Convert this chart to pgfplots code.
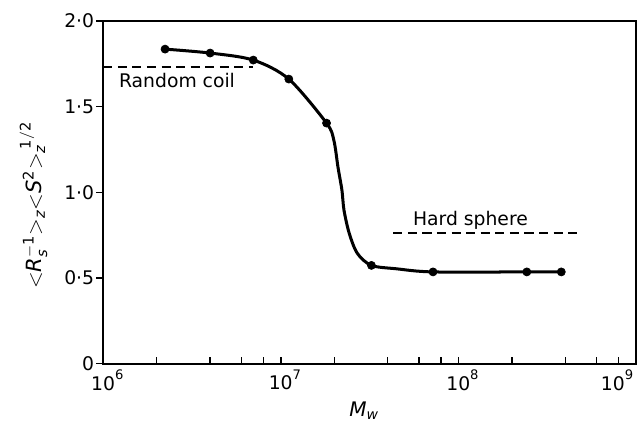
\documentclass[border=0pt]{standalone}
\usepackage{fontspec}
\setmainfont{DejaVu Sans}
\usepackage{pgfplots}
\pgfplotsset{compat=1.18}
\begin{document}
\begin{tikzpicture}[font=\fontsize{10.3}{12}\selectfont]
\begin{axis}[
 name=ax,
 scale only axis,
 width=292.4pt, height=188pt,
 xmode=log, xmin=1e6, xmax=1e9, ymin=0, ymax=2,
 xtick={1e6,1e7,1e8,1e9},
 xticklabels={$\mathrm{10}^{\mathrm{6}}$,$\mathrm{10}^{\mathrm{7}}$,$\mathrm{10}^{\mathrm{8}}$,\llap{$\mathrm{10}^{\mathrm{9}}$\hspace{3.5pt}}},
 minor xtick={2e6,4e6,6e6,8e6,2e7,4e7,6e7,8e7,2e8,4e8,6e8,8e8},
 ytick={0,0.5,1,1.5,2},
 yticklabels={0,0·5,1·0,1·5,2·0},
 xtick pos=bottom, ytick pos=left,
 xtick align=inside, ytick align=outside,
 major tick length=3.8pt, minor tick length=3.8pt,
 axis line style={line width=1.1pt},
 every tick/.style={black, line width=0.8pt},
 tick label style={font=\fontsize{10.3}{12}\selectfont},
 yticklabel style={inner sep=1pt},
 xticklabel style={xshift=2.5pt},
 xlabel={$\mathit{M}_{\mathit{w}}$},
 ylabel={$\mathrm{<}\mathit{R}_{\mathit{s}}^{\mathrm{-1}}\mathrm{>}_{\mathit{z}}\mathrm{<}\mathit{S}^{\mathrm{2}}\mathrm{>}_{\mathit{z}}^{\;\mathrm{1/2}}$},
 xlabel style={at={(axis description cs:0.49,-0.138)}, anchor=center, font=\fontsize{11}{13}\selectfont},
 ylabel style={at={(axis description cs:-0.131,0.462)}, anchor=center, font=\fontsize{11.5}{13}\selectfont},
 clip=false,
]
% random coil
\addplot[black, line width=1pt, dash pattern=on 5pt off 3pt] coordinates {(1e6,1.731) (7e6,1.731)};
% hard sphere
\addplot[black, line width=1pt, dash pattern=on 5pt off 3pt] coordinates {(4.3e7,0.76) (4.7e8,0.76)};
% curve
\addplot[black, line width=1.65pt, smooth, tension=0.5] coordinates {
(2.23e6,1.836) (4.0e6,1.813) (7.0e6,1.772) (1.11e7,1.661) (1.81e7,1.404)
(1.99e7,1.304) (2.10e7,1.146) (2.21e7,1.012) (2.27e7,0.895) (2.43e7,0.76)
(2.70e7,0.643) (3.24e7,0.573) (4.5e7,0.553) (7.2e7,0.535) (2.43e8,0.535) (3.8e8,0.535)};
% points
\addplot[black, only marks, mark=*, mark size=2.2pt] coordinates {
(2.23e6,1.836) (4.0e6,1.813) (7.0e6,1.772) (1.11e7,1.661) (1.81e7,1.404)
(3.24e7,0.573) (7.2e7,0.535) (2.43e8,0.535) (3.8e8,0.535)};
\node[anchor=west] at (axis cs:1.13e6,1.65) {Random coil};
\node at (axis cs:1.17e8,0.836) {Hard sphere};
\end{axis}
\pgfresetboundingbox
\path ([xshift=-56.65pt,yshift=-31.9pt]ax.south west) rectangle ([xshift=0.6pt,yshift=11.55pt]ax.north east);
\end{tikzpicture}
\end{document}
